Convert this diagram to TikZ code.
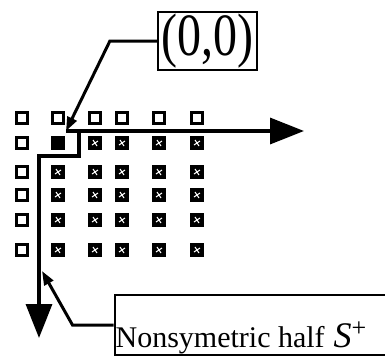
\documentclass[tikz,border=0pt]{standalone}
\usepackage{fontspec}
\setmainfont{Liberation Serif}
\usetikzlibrary{arrows.meta,positioning,calc}

\begin{document}
\begin{tikzpicture}[x=1pt, y=-1pt]
\tikzstyle{label box} = [draw, line width=2.2pt, inner sep=1pt]
\tikzstyle{open cell} = [draw, line width=3.2pt, minimum size=10.4pt, inner sep=0pt]
\tikzstyle{full cell} = [fill=black, minimum size=14pt, inner sep=0pt]
\tikzstyle{speck} = [draw=white, line width=1pt]
\tikzstyle{axis} = [draw, line width=3.4pt, -{Triangle[length=34pt,width=26pt]}]
\tikzstyle{pointer} = [draw, line width=3pt, -{Triangle[length=14pt,width=10pt]}]

\useasboundingbox (0,0) rectangle (385,357);
\clip (0,0) rectangle (385,357);

% grid of samples
\foreach \cx [count=\i from 0] in {22,58,95,122,159,197} {
  \foreach \cy [count=\j from 0] in {118,143,172,195,220,250} {
    \pgfmathtruncatemacro{\edge}{(\i==0)||(\j==0)}
    \pgfmathtruncatemacro{\plain}{(\i==1)&&(\j==1)}
    \ifnum\edge=1
      \node [open cell] (c-\i-\j) at (\cx,\cy) {};
    \else
      \node [full cell] (c-\i-\j) at (\cx,\cy) {};
      \ifnum\plain=0
        \path [speck] (c-\i-\j.center) +(-3,2) -- +(3,-2) +(-2,-3) -- +(2,3);
      \fi
    \fi
  }
}

\node [label box, minimum width=99pt, minimum height=58pt] (origin) at (207.5,41) {\scalebox{0.8}[1]{\fontsize{60}{64}\selectfont (0,0)}};
\node [label box, anchor=base west, text height=51pt, text depth=7pt] (half) at (113.5,347) {\fontsize{30}{36}\selectfont Nonsymetric half\hspace{9pt}\fontsize{36}{36}\selectfont\textit{S}\raisebox{11pt}{\fontsize{26}{26}\selectfont +}\rule{60pt}{0pt}};

\coordinate (corner) at (66,131);
\coordinate (bend) at (79,131);
\coordinate (xtip) at (304,131);
\coordinate (ytip) at (39,338);
\coordinate (ylabel) at (42,271);

\path [axis] (corner) -- (xtip);
\path [axis] (bend) -- ++(0,25) -| (ytip);
\path [pointer] (origin.west) -- ++(-47,0) -- (corner);
\path [pointer] (half.west) -- ++(-41,0) -- (ylabel);

\end{tikzpicture}
\end{document}
